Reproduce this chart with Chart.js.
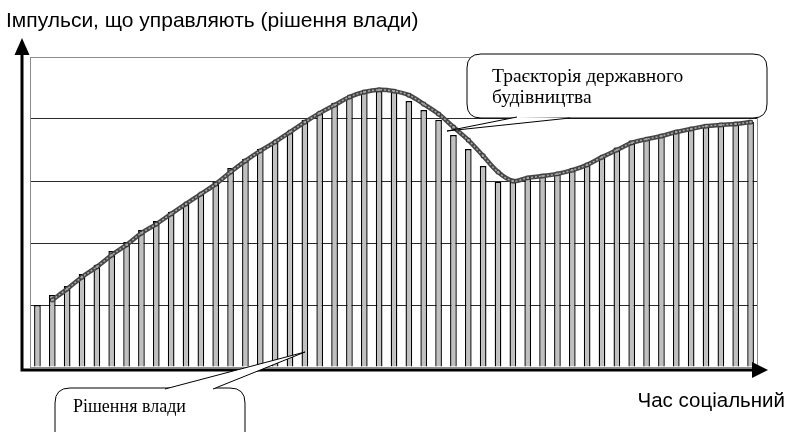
<!DOCTYPE html>
<html>
<head>
<meta charset="utf-8">
<script src="https://cdn.jsdelivr.net/npm/chart.js@4"></script>
<style>
  body { margin: 0; background: #fff; }
  canvas { display: block; }
</style>
</head>
<body>
<canvas id="chart" width="787" height="432"></canvas>
<script>
// 49 steps of "social time"
const steps = Array.from({ length: 49 }, (_, i) => String(i + 1));

// decisions of the authorities (bars), 0..100 scale
const decisions = [
    20.0, 23.2, 26.1, 30.0, 32.9, 37.4, 40.3, 44.2, 47.1, 50.0,
    52.9, 56.1, 59.7, 64.2, 67.1, 70.3, 72.9, 76.1, 79.7, 82.3,
    85.2, 87.1, 89.0, 89.0, 89.0, 85.8, 82.9, 79.7, 74.8, 70.3,
    64.8, 59.7, 59.7, 61.3, 61.6, 62.6, 64.0, 65.6, 68.1, 70.8,
    73.1, 73.9, 74.8, 76.1, 76.8, 78.2, 78.5, 78.5, 79.0
];

// trajectory of state building (line), starts at the 2nd step
const trajectory = [
    null, 21.6, 25.2, 29.0, 32.3, 36.1, 39.4, 43.2, 46.1, 49.4,
    52.6, 55.8, 59.0, 62.9, 66.5, 69.7, 72.6, 75.8, 79.0, 81.9,
    84.5, 87.1, 88.7, 89.4, 89.0, 87.7, 84.8, 81.6, 77.4, 73.2,
    68.1, 62.9, 60.0, 61.0, 61.6, 62.3, 63.5, 65.2, 67.7, 70.0,
    72.3, 73.5, 74.5, 75.8, 76.8, 77.7, 78.1, 78.4, 79.0
];

const yAxisTitle = 'Імпульси, що управляють (рішення влади)';
const xAxisTitle = 'Час соціальний';
const lineNote = ['Траєкторія державного', 'будівництва'];
const barNote = 'Рішення влади';

function bubble(c, x, y, w, h, r) {
    c.beginPath();
    c.moveTo(x + r, y);
    c.lineTo(x + w - r, y);
    c.quadraticCurveTo(x + w, y, x + w, y + r);
    c.lineTo(x + w, y + h - r);
    c.quadraticCurveTo(x + w, y + h, x + w - r, y + h);
    c.lineTo(x + r, y + h);
    c.quadraticCurveTo(x, y + h, x, y + h - r);
    c.lineTo(x, y + r);
    c.quadraticCurveTo(x, y, x + r, y);
    c.closePath();
    c.fillStyle = '#fff';
    c.fill();
    c.strokeStyle = '#000';
    c.lineWidth = 1;
    c.stroke();
}

function pointer(c, tip, a, b) {
    c.beginPath();
    c.moveTo(a[0], a[1]);
    c.lineTo(tip[0], tip[1]);
    c.lineTo(b[0], b[1]);
    c.closePath();
    c.fillStyle = '#fff';
    c.fill();
    c.beginPath();
    c.moveTo(a[0], a[1]);
    c.lineTo(tip[0], tip[1]);
    c.lineTo(b[0], b[1]);
    c.strokeStyle = '#000';
    c.lineWidth = 1;
    c.stroke();
}

const decor = {
    id: 'decor',
    beforeDatasetsDraw(chart) {
        const c = chart.ctx, a = chart.chartArea;
        c.save();
        c.strokeStyle = '#8c8c8c';
        c.lineWidth = 1;
        c.strokeRect(a.left + 0.5, a.top + 0.5, a.right - a.left - 1, a.bottom - a.top);
        c.restore();
    },
    afterDraw(chart) {
        const c = chart.ctx, a = chart.chartArea;
        c.save();
        // axes with arrows
        c.strokeStyle = '#000';
        c.fillStyle = '#000';
        c.lineWidth = 3;
        c.beginPath();
        c.moveTo(22, a.bottom + 3);
        c.lineTo(22, 50);
        c.moveTo(20.5, a.bottom + 3);
        c.lineTo(756, a.bottom + 3);
        c.stroke();
        c.beginPath();
        c.moveTo(22, 38); c.lineTo(14.5, 55); c.lineTo(29.5, 55); c.closePath();
        c.fill();
        c.beginPath();
        c.moveTo(768, a.bottom + 3); c.lineTo(752, a.bottom - 5); c.lineTo(752, a.bottom + 11); c.closePath();
        c.fill();

        // axis titles
        c.textBaseline = 'alphabetic';
        c.textAlign = 'left';
        c.font = '21px "Liberation Sans", Arial, sans-serif';
        c.fillText(yAxisTitle, 6, 27);
        c.textAlign = 'right';
        c.font = '20.5px "Liberation Sans", Arial, sans-serif';
        c.fillText(xAxisTitle, 785, 407);

        // callout for the trajectory
        bubble(c, 467, 54, 300, 64, 14);
        pointer(c, [447, 131], [517, 117], [570, 118]);
        c.fillStyle = '#000';
        c.font = '19.5px "Liberation Serif", "Times New Roman", serif';
        c.textAlign = 'left';
        c.fillText(lineNote[0], 492, 82);
        c.fillText(lineNote[1], 492, 103);

        // callout for the decisions
        bubble(c, 55, 388, 190, 60, 15);
        pointer(c, [305, 352], [165, 389], [213, 389]);
        c.fillStyle = '#000';
        c.font = '18px "Liberation Serif", "Times New Roman", serif';
        c.fillText(barNote, 73, 412);
        c.restore();
    }
};

new Chart(document.getElementById('chart'), {
    type: 'bar',
    data: {
        labels: steps,
        datasets: [{
            type: 'line',
            data: trajectory,
            borderColor: '#a8a8a8',
            borderWidth: 1.5,
            borderDash: [2, 2],
            tension: 0.35,
            pointRadius: 0,
            order: 0
        }, {
            type: 'line',
            data: trajectory,
            borderColor: '#474747',
            borderWidth: 4.5,
            tension: 0.35,
            pointStyle: 'rect',
            pointRadius: 2.5,
            pointBackgroundColor: '#9a9a9a',
            pointBorderColor: '#333',
            pointBorderWidth: 1,
            order: 1
        }, {
            data: decisions,
            backgroundColor: '#c0c0c0',
            borderColor: '#000',
            borderWidth: 1.4,
            barPercentage: 0.45,
            categoryPercentage: 1,
            order: 2
        }]
    },
    options: {
        responsive: false,
        animation: false,
        layout: { padding: { left: 30, right: 29, top: 57, bottom: 65 } },
        plugins: { legend: { display: false }, tooltip: { enabled: false } },
        scales: {
            x: { display: false },
            y: {
                min: 0,
                max: 100,
                ticks: { display: false, stepSize: 20 },
                border: { display: false },
                grid: {
                    drawTicks: false,
                    color: (ctx) => (ctx.tick && (ctx.tick.value === 0 || ctx.tick.value === 100)) ? 'rgba(0,0,0,0)' : '#2a2a2a'
                }
            }
        }
    },
    plugins: [decor]
});
</script>
</body>
</html>
